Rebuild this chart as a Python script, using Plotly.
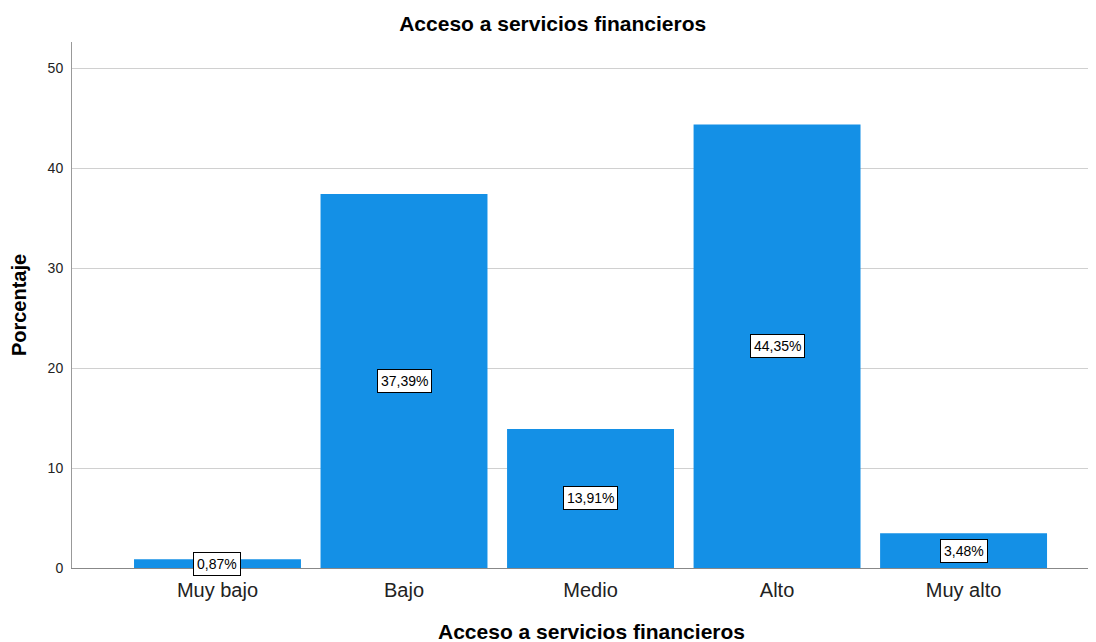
import plotly.graph_objects as go

categories = ["Muy bajo", "Bajo", "Medio", "Alto", "Muy alto"]
values = [0.87, 37.39, 13.91, 44.35, 3.48]
labels = ["0,87%", "37,39%", "13,91%", "44,35%", "3,48%"]
y_ticks = [0, 10, 20, 30, 40, 50]

xs = list(range(len(categories)))
fig = go.Figure()
fig.add_trace(go.Bar(x=xs, y=values, width=0.895, marker=dict(color="#1490E6", line=dict(width=0)),
                     hoverinfo="skip"))

for x, v, t in zip(xs, values, labels):
    fig.add_annotation(x=x, y=v / 2, text=t, showarrow=False,
                       font=dict(family="Liberation Sans, Arial", size=14, color="black"),
                       bgcolor="white", bordercolor="black", borderwidth=1, borderpad=3)

fig.add_annotation(text="<b>Acceso a servicios financieros</b>", showarrow=False,
                   xref="paper", yref="paper", x=0.507, y=-0.12,
                   xanchor="center", yanchor="middle",
                   font=dict(family="Liberation Sans, Arial", size=21, color="black"))

fig.update_layout(
    width=1096, height=642,
    margin=dict(l=64, r=8, t=34, b=82),
    plot_bgcolor="white", paper_bgcolor="white",
    showlegend=False,
    title=dict(text="<b>Acceso a servicios financieros</b>", x=0.497, xref="container", xanchor="center",
               y=1 - 16 / 642, yref="container", yanchor="middle",
               font=dict(family="Liberation Sans, Arial", size=21, color="black")),
    font=dict(family="Liberation Sans, Arial", color="black"),
)
fig.update_xaxes(
    range=[-0.78, 4.71], tickvals=xs, ticktext=categories,
    tickfont=dict(size=20, color="#222"), ticks="", showgrid=False, zeroline=False,
    showline=True, linecolor="#888", linewidth=1, ticklabelstandoff=4,
)
fig.update_yaxes(
    range=[0, 52.6], tickvals=y_ticks, ticks="", tickfont=dict(size=14, color="#222"),
    showgrid=True, gridcolor="#d0d0d0", gridwidth=1, zeroline=False,
    showline=True, linecolor="#999", linewidth=1, ticklabelstandoff=5,
    title=dict(text="<b>Porcentaje</b>", font=dict(size=20, color="black"), standoff=18),
)
fig.write_html("out.html")
